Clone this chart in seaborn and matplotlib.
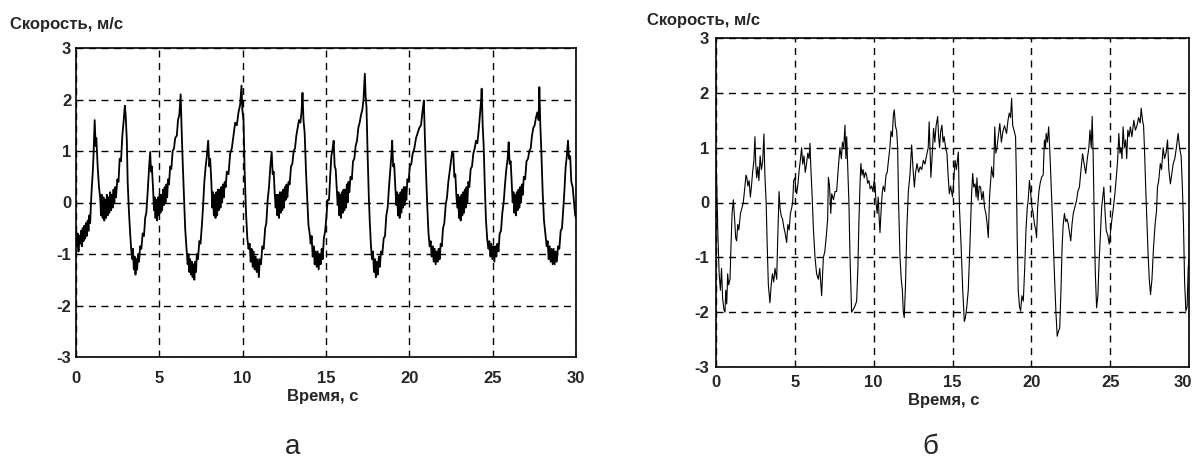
import matplotlib
matplotlib.use("Agg")
import matplotlib.pyplot as plt
import matplotlib.transforms as mtransforms
import seaborn as sns
import pandas as pd

# ---------------- data ----------------
time_a = [0.00, 0.05, 0.10, 0.15, 0.20, 0.25, 0.30, 0.35, 0.40, 0.45, 0.50, 0.55, 0.60, 0.65, 0.70, 0.75, 0.80, 0.85, 0.90, 0.95,
          1.00, 1.05, 1.12, 1.18, 1.22, 1.30, 1.38, 1.45, 1.50, 1.55, 1.60, 1.65, 1.70, 1.75, 1.80, 1.85, 1.90, 1.95, 2.00, 2.05,
          2.10, 2.15, 2.20, 2.25, 2.30, 2.35, 2.40, 2.48, 2.55, 2.62, 2.70, 2.78, 2.85, 2.93, 2.98, 3.05, 3.10, 3.18, 3.25, 3.32,
          3.38, 3.42, 3.47, 3.52, 3.57, 3.62, 3.67, 3.72, 3.78, 3.85, 3.92, 4.00, 4.08, 4.15, 4.22, 4.30, 4.38, 4.45, 4.50, 4.55,
          4.62, 4.68, 4.72, 4.77, 4.82, 4.87, 4.92, 4.97, 5.02, 5.07, 5.12, 5.17, 5.22, 5.27, 5.32, 5.37, 5.42, 5.47, 5.52, 5.58,
          5.65, 5.72, 5.80, 5.88, 5.95, 6.05, 6.12, 6.20, 6.28, 6.33, 6.40, 6.48, 6.55, 6.62, 6.70, 6.75, 6.80, 6.85, 6.90, 6.95,
          7.00, 7.05, 7.10, 7.15, 7.20, 7.25, 7.32, 7.40, 7.47, 7.55, 7.62, 7.70, 7.78, 7.85, 7.93, 8.00, 8.05, 8.12, 8.18, 8.22,
          8.27, 8.32, 8.37, 8.42, 8.47, 8.52, 8.57, 8.62, 8.67, 8.72, 8.77, 8.82, 8.87, 8.92, 8.98, 9.05, 9.15, 9.25, 9.35, 9.45,
          9.55, 9.65, 9.75, 9.85, 9.93, 9.98, 10.05, 10.12, 10.20, 10.28, 10.35, 10.42, 10.48, 10.54, 10.60, 10.66, 10.72, 10.78, 10.84, 10.90,
          10.97, 11.03, 11.10, 11.18, 11.26, 11.35, 11.42, 11.50, 11.58, 11.66, 11.74, 11.80, 11.86, 11.92, 11.98, 12.03, 12.08, 12.13, 12.18, 12.23,
          12.28, 12.33, 12.38, 12.43, 12.48, 12.53, 12.58, 12.63, 12.68, 12.75, 12.82, 12.90, 12.98, 13.06, 13.14, 13.22, 13.30, 13.38, 13.46, 13.53,
          13.59, 13.65, 13.72, 13.80, 13.88, 13.95, 14.02, 14.08, 14.14, 14.20, 14.26, 14.32, 14.38, 14.44, 14.50, 14.56, 14.62, 14.68, 14.74, 14.80,
          14.87, 14.95, 15.02, 15.10, 15.18, 15.25, 15.32, 15.40, 15.46, 15.52, 15.58, 15.64, 15.70, 15.75, 15.80, 15.85, 15.90, 15.95, 16.00, 16.05,
          16.10, 16.15, 16.20, 16.25, 16.30, 16.35, 16.40, 16.47, 16.55, 16.62, 16.70, 16.78, 16.86, 16.94, 17.02, 17.10, 17.18, 17.25, 17.33, 17.38,
          17.43, 17.50, 17.57, 17.63, 17.70, 17.76, 17.82, 17.88, 17.94, 17.99, 18.05, 18.11, 18.17, 18.23, 18.30, 18.38, 18.46, 18.54, 18.62, 18.70,
          18.78, 18.85, 18.92, 18.97, 19.03, 19.09, 19.15, 19.22, 19.27, 19.32, 19.37, 19.42, 19.47, 19.52, 19.57, 19.62, 19.67, 19.72, 19.77, 19.82,
          19.88, 19.95, 20.03, 20.12, 20.20, 20.30, 20.40, 20.50, 20.60, 20.70, 20.80, 20.87, 20.93, 21.00, 21.08, 21.15, 21.22, 21.28, 21.34, 21.40,
          21.46, 21.52, 21.58, 21.64, 21.70, 21.76, 21.82, 21.88, 21.95, 22.02, 22.10, 22.18, 22.26, 22.34, 22.42, 22.50, 22.57, 22.64, 22.70, 22.76,
          22.82, 22.88, 22.93, 22.98, 23.03, 23.08, 23.13, 23.18, 23.23, 23.28, 23.33, 23.38, 23.43, 23.48, 23.54, 23.60, 23.68, 23.76, 23.84, 23.92,
          24.00, 24.08, 24.16, 24.24, 24.30, 24.34, 24.40, 24.46, 24.53, 24.60, 24.67, 24.74, 24.80, 24.86, 24.92, 24.98, 25.04, 25.10, 25.16, 25.22,
          25.28, 25.35, 25.42, 25.50, 25.58, 25.66, 25.74, 25.82, 25.90, 25.96, 26.02, 26.08, 26.14, 26.20, 26.25, 26.30, 26.35, 26.40, 26.45, 26.50,
          26.55, 26.60, 26.65, 26.70, 26.75, 26.80, 26.87, 26.95, 27.03, 27.12, 27.20, 27.28, 27.36, 27.44, 27.52, 27.60, 27.68, 27.76, 27.80, 27.86,
          27.92, 28.00, 28.08, 28.16, 28.24, 28.30, 28.36, 28.42, 28.48, 28.54, 28.60, 28.66, 28.72, 28.78, 28.85, 28.92, 29.00, 29.08, 29.16, 29.24,
          29.30, 29.38, 29.45, 29.52, 29.58, 29.65, 29.72, 29.80, 29.88, 29.95, 30.00]
speed_a = [-0.55, -0.85, -0.60, -0.95, -0.65, -0.80, -0.55, -0.85, -0.50, -0.75, -0.45, -0.70, -0.40, -0.65, -0.35, -0.55, -0.25, -0.40, 0.00, 0.30,
           0.55, 0.90, 1.60, 1.10, 1.25, 0.70, 0.30, 0.10, -0.25, 0.15, -0.30, 0.10, -0.35, 0.05, -0.30, 0.15, -0.25, 0.10, -0.20, 0.20,
           -0.15, 0.15, -0.10, 0.25, 0.00, 0.30, 0.10, 0.45, 0.40, 0.85, 0.80, 1.30, 1.55, 1.88, 1.70, 1.20, 0.40, -0.20, -0.60, -0.95,
           -1.10, -0.90, -1.30, -1.05, -1.40, -1.10, -1.30, -1.00, -1.15, -0.85, -0.90, -0.60, -0.65, -0.30, -0.20, 0.20, 0.65, 0.98, 0.60, 0.70,
           0.30, -0.15, 0.10, -0.30, 0.05, -0.35, 0.10, -0.25, 0.15, -0.20, 0.15, -0.15, 0.25, -0.05, 0.30, 0.00, 0.35, 0.10, 0.45, 0.35,
           0.70, 0.65, 1.00, 1.05, 1.25, 1.30, 1.60, 1.70, 2.10, 1.50, 0.80, 0.10, -0.50, -0.85, -1.20, -1.00, -1.35, -1.10, -1.40, -1.15,
           -1.45, -1.20, -1.50, -1.15, -1.35, -1.00, -1.10, -0.75, -0.80, -0.45, -0.10, 0.40, 0.70, 0.90, 1.20, 0.70, 0.85, 0.40, -0.10, 0.20,
           -0.25, 0.15, -0.30, 0.20, -0.25, 0.25, -0.15, 0.25, -0.10, 0.30, 0.00, 0.35, 0.10, 0.40, 0.30, 0.60, 0.55, 0.95, 1.05, 1.30,
           1.55, 1.50, 1.75, 1.90, 2.27, 1.80, 1.60, 0.60, -0.20, -0.70, -0.90, -0.80, -1.15, -0.90, -1.25, -0.95, -1.30, -1.05, -1.35, -1.10,
           -1.45, -1.10, -1.20, -0.85, -0.90, -0.50, -0.40, 0.05, 0.30, 0.70, 0.98, 0.55, 0.60, 0.20, -0.10, 0.15, -0.25, 0.15, -0.30, 0.20,
           -0.20, 0.20, -0.15, 0.25, -0.10, 0.30, 0.05, 0.35, 0.10, 0.40, 0.35, 0.70, 0.75, 1.00, 1.05, 1.30, 1.45, 1.60, 1.55, 1.75,
           2.13, 1.60, 1.35, 0.60, 0.05, -0.45, -0.60, -0.80, -0.65, -1.05, -0.85, -1.20, -0.95, -1.25, -0.95, -1.30, -1.00, -1.20, -0.90, -1.10,
           -0.70, -0.55, -0.30, 0.05, 0.05, 0.50, 0.90, 1.05, 1.20, 0.70, 0.65, 0.30, -0.05, 0.20, -0.25, 0.15, -0.30, 0.20, -0.20, 0.25,
           -0.15, 0.25, -0.10, 0.35, 0.00, 0.40, 0.20, 0.50, 0.45, 0.80, 0.85, 1.10, 1.20, 1.45, 1.55, 1.70, 1.80, 2.00, 2.50, 2.05,
           1.85, 0.90, 0.10, -0.40, -0.85, -1.10, -0.95, -1.35, -1.10, -1.45, -1.15, -1.40, -1.05, -1.25, -0.95, -1.00, -0.70, -0.65, -0.25, -0.10,
           0.30, 0.60, 0.90, 1.20, 0.70, 0.75, 0.35, -0.05, 0.20, -0.25, 0.15, -0.30, 0.20, -0.20, 0.25, -0.10, 0.30, -0.05, 0.30, 0.05,
           0.45, 0.40, 0.70, 0.75, 0.95, 1.05, 1.25, 1.35, 1.45, 1.50, 1.80, 1.98, 1.30, 0.60, -0.10, -0.60, -0.85, -0.75, -1.05, -0.85,
           -1.15, -0.90, -1.20, -0.95, -1.15, -0.90, -1.10, -0.80, -0.85, -0.50, -0.40, -0.05, 0.10, 0.40, 0.60, 0.80, 0.98, 0.95, 0.50, 0.55,
           0.15, -0.10, 0.15, -0.30, 0.10, -0.35, 0.15, -0.25, 0.20, -0.20, 0.25, -0.10, 0.30, 0.00, 0.40, 0.30, 0.65, 0.70, 0.95, 1.05,
           1.20, 1.15, 1.40, 1.70, 1.95, 2.21, 1.50, 1.10, 0.30, -0.35, -0.70, -0.90, -0.75, -1.05, -0.80, -1.10, -0.85, -1.15, -0.85, -1.05,
           -0.80, -0.95, -0.60, -0.55, -0.20, 0.00, 0.35, 0.65, 0.85, 1.17, 0.75, 0.80, 0.40, 0.00, 0.20, -0.20, 0.15, -0.25, 0.20, -0.15,
           0.25, -0.10, 0.30, 0.00, 0.35, 0.15, 0.50, 0.45, 0.80, 0.85, 1.00, 1.05, 1.30, 1.45, 1.50, 1.65, 1.75, 1.60, 2.24, 1.50,
           1.00, 0.20, -0.35, -0.60, -0.85, -0.75, -1.10, -0.85, -1.15, -0.90, -1.20, -0.90, -1.20, -0.95, -1.15, -0.85, -0.90, -0.55, -0.50, -0.10,
           0.20, 0.70, 0.90, 1.20, 0.85, 0.90, 0.40, 0.30, 0.00, -0.25, -0.30]

time_b = [0.00, 0.05, 0.12, 0.20, 0.28, 0.35, 0.42, 0.50, 0.57, 0.62, 0.68, 0.74, 0.80, 0.89, 0.95, 1.02, 1.10, 1.18, 1.25, 1.31,
          1.38, 1.45, 1.55, 1.65, 1.73, 1.82, 1.90, 1.96, 2.02, 2.10, 2.18, 2.25, 2.32, 2.40, 2.47, 2.52, 2.58, 2.65, 2.72, 2.80,
          2.88, 2.96, 3.04, 3.10, 3.18, 3.25, 3.32, 3.42, 3.50, 3.58, 3.66, 3.74, 3.85, 3.92, 4.00, 4.06, 4.14, 4.22, 4.30, 4.38,
          4.48, 4.56, 4.64, 4.72, 4.80, 4.86, 4.93, 5.01, 5.06, 5.12, 5.20, 5.28, 5.36, 5.43, 5.50, 5.58, 5.66, 5.74, 5.82, 5.90,
          5.96, 6.02, 6.10, 6.18, 6.28, 6.38, 6.49, 6.58, 6.70, 6.76, 6.81, 6.90, 7.00, 7.08, 7.13, 7.20, 7.28, 7.34, 7.45, 7.55,
          7.65, 7.75, 7.86, 7.95, 8.02, 8.10, 8.18, 8.24, 8.29, 8.36, 8.43, 8.50, 8.60, 8.70, 8.80, 8.92, 9.00, 9.06, 9.13, 9.19,
          9.26, 9.33, 9.40, 9.48, 9.55, 9.62, 9.70, 9.78, 9.87, 9.95, 10.03, 10.08, 10.15, 10.22, 10.29, 10.35, 10.40, 10.48, 10.55, 10.61,
          10.70, 10.78, 10.86, 10.95, 11.03, 11.10, 11.18, 11.25, 11.31, 11.38, 11.46, 11.52, 11.58, 11.63, 11.67, 11.75, 11.82, 11.88, 11.94, 12.02,
          12.10, 12.20, 12.30, 12.41, 12.50, 12.58, 12.66, 12.75, 12.85, 12.95, 13.05, 13.15, 13.25, 13.35, 13.46, 13.52, 13.58, 13.63, 13.72, 13.80,
          13.88, 13.96, 14.06, 14.12, 14.18, 14.25, 14.33, 14.40, 14.47, 14.56, 14.65, 14.72, 14.80, 14.88, 15.00, 15.08, 15.16, 15.25, 15.37, 15.44,
          15.55, 15.65, 15.75, 15.82, 15.90, 16.00, 16.10, 16.21, 16.28, 16.35, 16.43, 16.50, 16.55, 16.62, 16.70, 16.78, 16.86, 16.95, 17.03, 17.12,
          17.20, 17.27, 17.35, 17.48, 17.55, 17.60, 17.68, 17.75, 17.82, 17.90, 18.00, 18.10, 18.20, 18.30, 18.43, 18.52, 18.60, 18.68, 18.75, 18.82,
          18.90, 19.00, 19.05, 19.10, 19.17, 19.25, 19.32, 19.40, 19.49, 19.58, 19.66, 19.74, 19.80, 19.88, 19.95, 20.04, 20.12, 20.20, 20.28, 20.33,
          20.40, 20.48, 20.56, 20.65, 20.75, 20.83, 20.90, 20.94, 21.02, 21.10, 21.18, 21.30, 21.40, 21.48, 21.56, 21.64, 21.72, 21.80, 21.88, 21.95,
          22.02, 22.10, 22.18, 22.26, 22.34, 22.42, 22.50, 22.58, 22.66, 22.75, 22.87, 22.95, 23.05, 23.15, 23.25, 23.35, 23.45, 23.55, 23.65, 23.72,
          23.80, 23.86, 23.92, 24.00, 24.06, 24.14, 24.22, 24.30, 24.38, 24.46, 24.53, 24.60, 24.68, 24.75, 24.85, 24.94, 25.02, 25.10, 25.20, 25.30,
          25.41, 25.48, 25.55, 25.62, 25.68, 25.75, 25.82, 25.90, 25.98, 26.05, 26.12, 26.20, 26.28, 26.38, 26.50, 26.60, 26.70, 26.80, 26.90, 26.97,
          27.05, 27.12, 27.18, 27.25, 27.33, 27.40, 27.48, 27.56, 27.65, 27.75, 27.85, 27.94, 28.00, 28.08, 28.18, 28.26, 28.36, 28.45, 28.54, 28.64,
          28.72, 28.82, 28.90, 29.00, 29.10, 29.20, 29.31, 29.40, 29.50, 29.58, 29.65, 29.72, 29.80, 29.88, 29.95, 30.00]
speed_b = [0.85, 0.30, -0.60, -1.30, -1.60, -1.20, -1.75, -1.95, -2.00, -1.60, -1.85, -1.30, -1.50, -1.40, -0.80, -0.20, 0.05, -0.30, -0.65, -0.70,
           -0.40, -0.50, -0.20, -0.10, 0.00, 0.25, 0.50, 0.45, 0.30, 0.40, 0.10, 0.30, 0.55, 0.75, 1.20, 0.70, 0.45, 0.65, 0.40, 0.85,
           0.60, 0.75, 1.25, 0.50, 0.00, -0.80, -1.50, -1.83, -1.50, -1.30, -1.45, -1.20, -1.40, -0.60, 0.20, -0.10, -0.25, -0.30, -0.45, -0.55,
           -0.73, -0.40, -0.50, -0.20, -0.10, 0.00, 0.40, 0.45, 0.25, 0.16, 0.35, 0.60, 0.80, 1.00, 0.70, 0.85, 0.55, 0.70, 0.90, 0.80,
           1.08, 0.60, 0.10, -0.50, -1.00, -1.30, -1.40, -1.20, -1.70, -1.30, -1.00, -0.90, -0.60, -0.30, 0.46, 0.30, -0.20, 0.16, 0.05, 0.20,
           0.20, 0.60, 1.00, 0.80, 1.10, 1.00, 1.41, 0.80, 1.20, 0.60, 0.00, -1.00, -2.00, -1.95, -1.90, -1.80, -1.20, -0.40, 0.30, 0.71,
           0.50, 0.60, 0.45, 0.55, 0.50, 0.35, 0.40, 0.25, 0.30, 0.20, 0.40, 0.35, 0.00, -0.20, 0.10, -0.30, -0.55, -0.10, 0.20, 0.30,
           0.20, 0.50, 0.55, 0.80, 1.00, 1.30, 1.20, 1.60, 1.69, 1.40, 1.30, 1.00, 0.00, -0.60, -1.00, -1.40, -1.60, -2.00, -2.10, -1.50,
           -0.50, 0.20, 0.50, 1.05, 0.60, 0.28, 0.55, 0.71, 0.55, 0.65, 0.60, 0.77, 0.70, 0.85, 1.00, 1.47, 0.90, 0.46, 0.90, 1.35,
           1.10, 1.40, 1.57, 1.20, 1.00, 1.30, 1.41, 1.10, 1.20, 1.00, 0.89, 0.50, 0.16, 0.30, 0.10, 0.40, 0.77, 0.60, 0.92, -0.09,
           -0.82, -1.60, -2.17, -2.10, -1.92, -1.60, -0.82, 0.16, 0.53, 0.28, 0.34, 0.10, 0.45, 0.04, 0.30, 0.28, 0.05, 0.20, -0.09, -0.20,
           -0.40, -0.64, 0.10, 0.65, 0.50, 0.46, 1.38, 0.90, 1.00, 1.20, 1.44, 1.10, 1.30, 1.40, 1.26, 1.50, 1.63, 1.55, 1.90, 1.40,
           1.32, 1.20, 0.50, -0.60, -1.61, -1.90, -1.98, -1.70, -1.80, -1.20, -0.50, -0.10, 0.04, 0.40, 0.20, -0.09, -0.20, -0.40, -0.50, -0.64,
           -0.09, 0.20, 0.35, 0.46, 0.50, 1.14, 1.00, 1.26, 1.10, 1.38, 0.89, 0.00, -0.80, -1.43, -2.00, -2.44, -2.35, -2.29, -1.60, -0.82,
           -0.40, -0.20, -0.35, -0.30, -0.39, -0.55, -0.70, -0.40, -0.20, -0.10, 0.04, 0.20, 0.28, 0.60, 0.89, 0.70, 0.53, 0.80, 1.00, 1.32,
           1.00, 1.57, 0.89, -0.50, -1.30, -1.92, -1.70, -1.06, -0.60, -0.09, 0.10, 0.28, -0.20, -0.51, -0.60, -0.76, -0.55, -0.33, -0.10, 0.16,
           0.53, 0.80, 1.26, 0.90, 1.00, 0.80, 1.38, 1.00, 1.14, 0.80, 1.32, 1.20, 1.38, 1.20, 1.50, 1.32, 1.40, 1.55, 1.45, 1.72,
           1.50, 1.40, 0.95, 0.30, -0.33, -0.90, -1.40, -1.68, -1.40, -0.82, -0.40, -0.15, 0.28, 0.40, 0.71, 0.60, 1.00, 0.80, 0.90, 1.14,
           0.60, 0.34, 0.50, 0.71, 0.80, 1.00, 1.26, 1.00, 0.85, 0.28, -0.40, -1.43, -1.98, -1.90, -1.19, -1.00]

x_ticks = [0, 5, 10, 15, 20, 25, 30]
y_ticks = [-3, -2, -1, 0, 1, 2, 3]
y_label = "Скорость, м/с"
x_label = "Время, с"
panel_labels = ["а", "б"]

# ---------------- style ----------------
sns.set_style("white")
plt.rcParams['font.family'] = ['Liberation Sans Narrow', 'Liberation Sans', 'DejaVu Sans']

W, H = 1195, 471
fig = plt.figure(figsize=(W / 100, H / 100), dpi=100)

def frac_box(x0, y0, x1, y1):
    return [x0 / W, 1 - y1 / H, (x1 - x0) / W, (y1 - y0) / H]

ax_a = fig.add_axes(frac_box(76, 48, 576, 357))
ax_b = fig.add_axes(frac_box(716, 38, 1189, 367))

df_a = pd.DataFrame({"t": time_a, "v": speed_a})
df_b = pd.DataFrame({"t": time_b, "v": speed_b})

sns.lineplot(data=df_a, x="t", y="v", ax=ax_a, color="black", linewidth=1.3,
             estimator=None, sort=False)
sns.lineplot(data=df_b, x="t", y="v", ax=ax_b, color="black", linewidth=0.8,
             estimator=None, sort=False)

for ax, xpad, ypad in [(ax_a, 10, 3.5), (ax_b, 6, 5)]:
    ax.set_xlim(0, 30)
    ax.set_ylim(-3, 3)
    ax.set_xticks(x_ticks)
    ax.set_yticks(y_ticks)
    ax.set_xticklabels([str(v) for v in x_ticks], fontsize=12, fontweight="bold")
    ax.set_yticklabels([str(v) for v in y_ticks], fontsize=12, fontweight="bold")
    ax.tick_params(axis="x", length=0, pad=xpad)
    ax.tick_params(axis="y", length=0, pad=ypad)
    ax.set_xlabel("")
    ax.set_ylabel("")
    ax.grid(True, color="black", linestyle=(0, (5, 4)), linewidth=1.0)
    for s in ax.spines.values():
        s.set_color("black")
        s.set_linewidth(1.2)

# keep the last x tick label of the right panel inside the figure
last = ax_b.get_xticklabels()[-1]
last.set_horizontalalignment("right")
last.set_transform(last.get_transform() +
                   mtransforms.ScaledTranslation(3 / 100, 0, fig.dpi_scale_trans))

# labels
fig.text(10 / W, 1 - 25 / H, y_label, fontsize=12, fontweight="bold", ha="left", va="center")
fig.text(647 / W, 1 - 20 / H, y_label, fontsize=12, fontweight="bold", ha="left", va="center")
fig.text(323 / W, 1 - 397 / H, x_label, fontsize=12, fontweight="bold", ha="center", va="center")
fig.text(944 / W, 1 - 400 / H, x_label, fontsize=12, fontweight="bold", ha="center", va="center")
fig.text(293 / W, 1 - 447 / H, panel_labels[0], fontsize=20, ha="center", va="center",
         family=['Liberation Sans', 'DejaVu Sans'])
fig.text(930 / W, 1 - 447 / H, panel_labels[1], fontsize=20, ha="center", va="center",
         family=['Liberation Sans', 'DejaVu Sans'])

fig.savefig("out.png", dpi=100, facecolor="white")
